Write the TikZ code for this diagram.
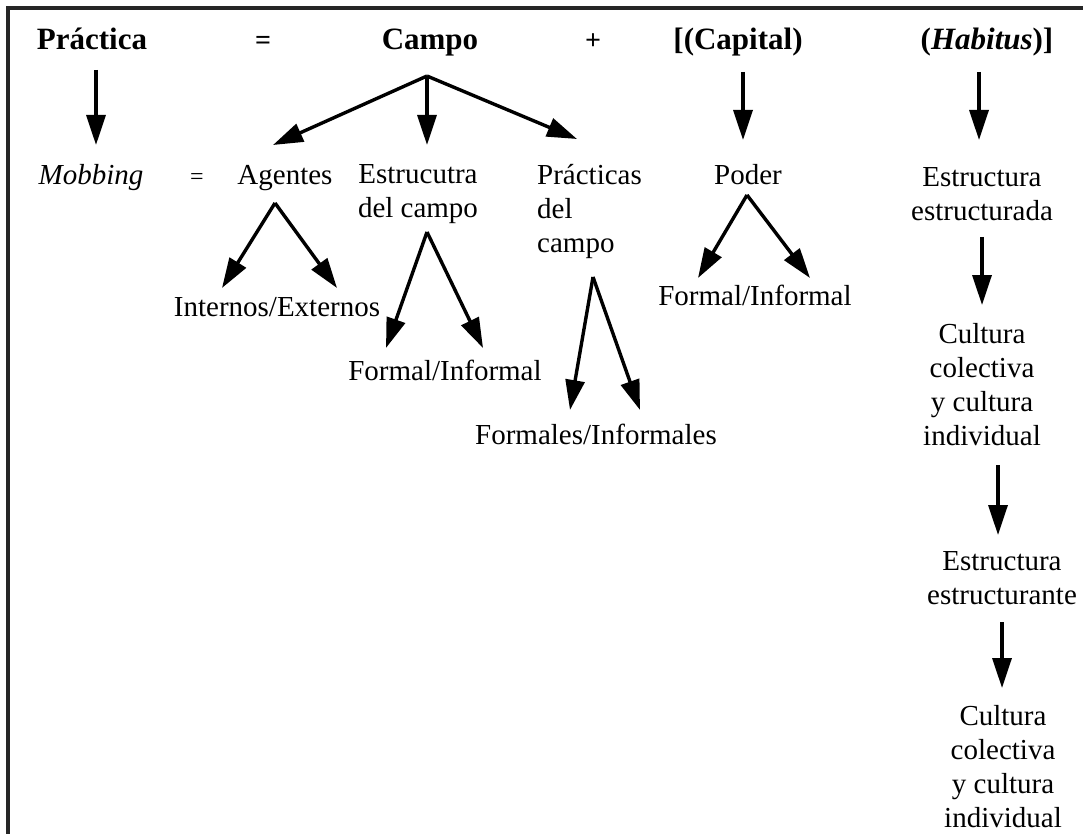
\documentclass[tikz,border=0pt]{standalone}
\usepackage{fontspec}
\setmainfont{Liberation Serif}
\usetikzlibrary{arrows.meta}
\begin{document}
\begin{tikzpicture}[x=1pt,y=-1pt,
  txt/.style={font=\fontsize{29}{34}\selectfont, inner sep=0pt, align=center},
  hd/.style={font=\fontsize{31}{36}\selectfont\bfseries, inner sep=0pt, anchor=base},
  sym/.style={font=\fontsize{28}{30}\selectfont\bfseries, inner sep=0pt, anchor=base},
  arr/.style={line width=3.4pt, -{Triangle[length=30pt,width=19pt]}},
  frame/.style={line width=4pt, draw=black!85}]
\useasboundingbox (0,0) rectangle (1083,834);
\draw[frame] (8,834) -- (8,8) -- (1083,8);

% header row (common baseline)
\node[hd] (prac) at (92,50) {Práctica};
\node[sym] (eq1) at (263,50) {=};
\node[hd] (campo) at (430,50) {Campo};
\node[sym] (plus) at (593,50) {+};
\node[hd] (capital) at (738,50) {[(Capital)};
\node[hd] (habitus) at (987,50) {(\textit{Habitus})]};

% second row (common baseline)
\node[txt,font=\fontsize{29}{34}\selectfont\itshape,anchor=base] (mobbing) at (91,185) {Mobbing};
\node[sym,font=\fontsize{24}{26}\selectfont] (eq2) at (197,185) {=};
\node[txt,anchor=base] (agentes) at (285,185) {Agentes};
\node[txt] (estr) at (418,194) {Estrucutra\\del campo};
\node[txt,align=left,anchor=west] (pract) at (537,212) {Prácticas\\del\\campo};
\node[txt,anchor=base] (poder) at (748,185) {Poder};
\node[txt] (estru1) at (982,194) {Estructura\\estructurada};

% leaves
\node[txt] (intext) at (277,307) {Internos/Externos};
\node[txt] (fi1) at (445,370) {Formal/Informal};
\node[txt] (fi2) at (596,434) {Formales/Informales};
\node[txt] (fi3) at (755,295) {Formal/Informal};

% habitus column
\node[txt] (cult1) at (982,385) {Cultura\\colectiva\\y cultura\\individual};
\node[txt] (estru2) at (1002,578) {Estructura\\estructurante};
\node[txt] (cult2) at (1003,767) {Cultura\\colectiva\\y cultura\\individual};

% coordinates for arrows
\coordinate (pracS) at (96,70);   \coordinate (mobN) at (96,145);
\coordinate (campoS) at (427,76);
\coordinate (agN) at (273,145);  \coordinate (estrN) at (427,145); \coordinate (pracN) at (577,139);
\coordinate (capS) at (743,72);  \coordinate (podN) at (743,140);
\coordinate (habS) at (979,72);  \coordinate (es1N) at (979,140);
\coordinate (agS) at (275,203);  \coordinate (ieL) at (222,288); \coordinate (ieR) at (337,288);
\coordinate (estrS) at (427,232); \coordinate (f1L) at (386,348); \coordinate (f1R) at (483,348);
\coordinate (practS) at (593,277); \coordinate (f2L) at (570,410); \coordinate (f2R) at (640,410);
\coordinate (podS) at (747,195); \coordinate (f3L) at (698,278); \coordinate (f3R) at (810,278);
\coordinate (es1S) at (982,237); \coordinate (c1N) at (982,305);
\coordinate (c1S) at (998,465);  \coordinate (es2N) at (998,535);
\coordinate (es2S) at (1002,622); \coordinate (c2N) at (1002,688);

\draw[arr] (pracS) -- (mobN);
\draw[arr] (campoS) -- (agN);
\draw[arr] (campoS) -- (estrN);
\draw[arr] (campoS) -- (pracN);
\draw[arr] (capS) -- (podN);
\draw[arr] (habS) -- (es1N);
\draw[arr] (agS) -- (ieL);
\draw[arr] (agS) -- (ieR);
\draw[arr] (estrS) -- (f1L);
\draw[arr] (estrS) -- (f1R);
\draw[arr] (practS) -- (f2L);
\draw[arr] (practS) -- (f2R);
\draw[arr] (podS) -- (f3L);
\draw[arr] (podS) -- (f3R);
\draw[arr] (es1S) -- (c1N);
\draw[arr] (c1S) -- (es2N);
\draw[arr] (es2S) -- (c2N);
\end{tikzpicture}
\end{document}
